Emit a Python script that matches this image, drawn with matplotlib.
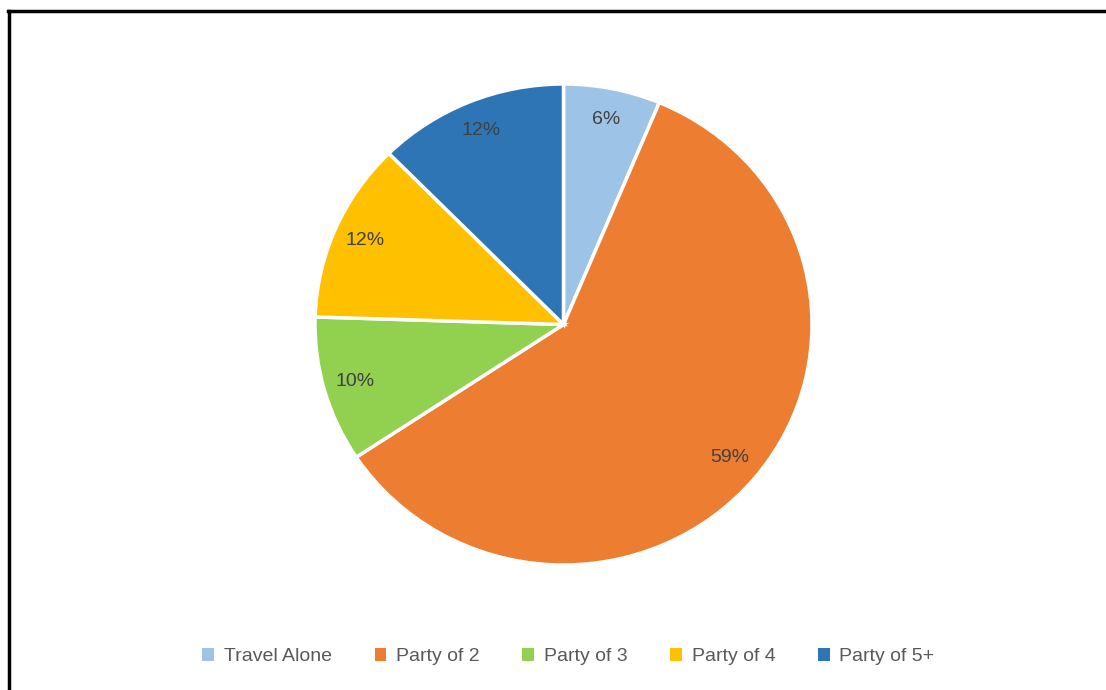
import matplotlib.pyplot as plt
from matplotlib.patches import Patch
from matplotlib.lines import Line2D

categories = ['Travel Alone', 'Party of 2', 'Party of 3', 'Party of 4', 'Party of 5+']
shares = [6.3, 59.4, 9.8, 12.1, 12.4]
colors = ['#9DC3E6', '#ED7D31', '#92D050', '#FFC000', '#2E75B6']

plt.rcParams['font.family'] = ['Liberation Sans Narrow', 'Liberation Sans', 'DejaVu Sans']

fig = plt.figure(figsize=(11.06, 6.90), dpi=100)
ax = fig.add_axes([315 / 1106, 125 / 690, 497 / 1106, 481 / 690])

wedges, texts, autotexts = ax.pie(
    shares, colors=colors, startangle=90, counterclock=False,
    autopct='%1.0f%%', pctdistance=0.87,
    wedgeprops=dict(edgecolor='white', linewidth=2.5),
    textprops=dict(color='#404040', fontsize=14))
ax.set_xlim(-1, 1)
ax.set_ylim(-1, 1)
ax.set_aspect('auto')
ax.axis('off')

handles = [Patch(facecolor=c, edgecolor='none') for c in colors]
fig.legend(handles, categories, loc='center', bbox_to_anchor=(0.514, 0.048),
           ncol=5, frameon=False, fontsize=14, labelcolor='#595959',
           handlelength=0.6, handleheight=0.6, handletextpad=0.5, columnspacing=2.2)

# border on left and top only
fig.add_artist(Line2D([9 / 1106, 9 / 1106], [0, 1 - 11 / 690], color='black', linewidth=2.5,
                      transform=fig.transFigure))
fig.add_artist(Line2D([8 / 1106, 1], [1 - 11 / 690, 1 - 11 / 690], color='black', linewidth=2.5,
                      transform=fig.transFigure))

fig.savefig('out.png', dpi=100)
